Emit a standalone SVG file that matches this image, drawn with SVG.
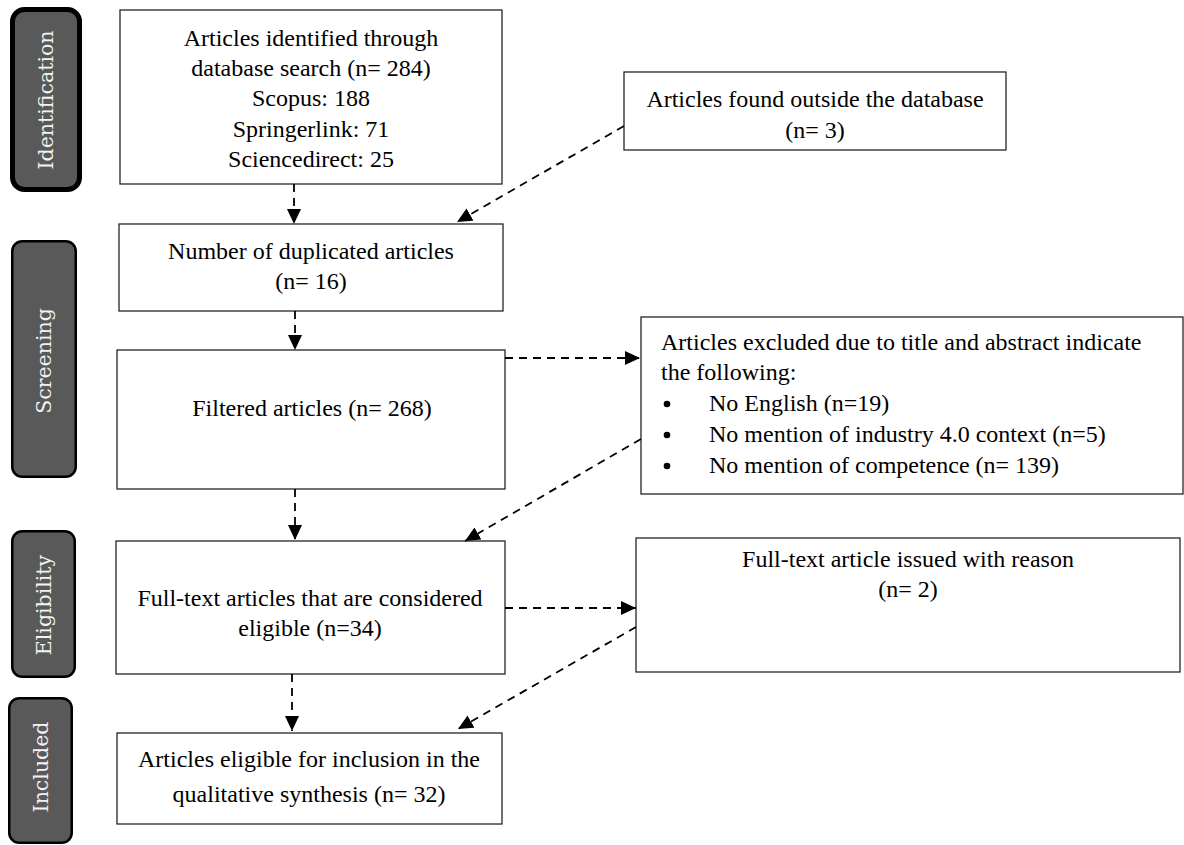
<svg xmlns="http://www.w3.org/2000/svg" width="1184" height="845" viewBox="0 0 1184 845">
<style>
.box{fill:#fff;stroke:#262626;stroke-width:1.3}
.lab{fill:#595959;stroke:#000;stroke-width:2.5}
.t{font-family:"Liberation Serif","Times New Roman",serif;font-size:24px;fill:#000}
.c{text-anchor:middle}
.lt{font-family:"DejaVu Serif",serif;font-size:20.5px;fill:#f2f2f2;text-anchor:middle}
.dl{fill:none;stroke:#000;stroke-width:1.8;stroke-dasharray:8 6}
</style>
<defs>
<marker id="ah" markerUnits="userSpaceOnUse" markerWidth="16" markerHeight="14" refX="15" refY="7" orient="auto">
<path d="M0,0 L15,7 L0,14 z" fill="#000"/>
</marker>
</defs>
<g id="label-identification">
<rect class="lab" x="12.5" y="9.5" width="67" height="180" rx="12" style="stroke-width:5"/>
<text class="lt" transform="translate(53,100) rotate(-90)">Identification</text>
</g>
<g id="label-screening">
<rect class="lab" x="12.25" y="241.25" width="63.5" height="235.5" rx="10"/>
<text class="lt" transform="translate(51,361) rotate(-90)">Screening</text>
</g>
<g id="label-eligibility">
<rect class="lab" x="12.25" y="531.25" width="62.5" height="145.5" rx="10"/>
<text class="lt" transform="translate(51,605) rotate(-90)">Eligibility</text>
</g>
<g id="label-included">
<rect class="lab" x="9.25" y="698.25" width="62.5" height="144.5" rx="10"/>
<text class="lt" transform="translate(48,767) rotate(-90)">Included</text>
</g>
<g id="identified">
<rect class="box" x="120" y="10" width="382" height="174"/>
<text class="t c" x="311" y="45.5">Articles identified through</text>
<text class="t c" x="311" y="76">database search (n= 284)</text>
<text class="t c" x="311" y="106.3">Scopus: 188</text>
<text class="t c" x="311" y="136.7">Springerlink: 71</text>
<text class="t c" x="311" y="167">Sciencedirect: 25</text>
</g>
<g id="outside">
<rect class="box" x="624" y="72" width="382" height="78"/>
<text class="t c" x="815" y="107">Articles found outside the database</text>
<text class="t c" x="815" y="138">(n= 3)</text>
</g>
<g id="duplicated">
<rect class="box" x="119" y="224" width="384" height="87"/>
<text class="t c" x="311" y="259">Number of duplicated articles</text>
<text class="t c" x="311" y="289">(n= 16)</text>
</g>
<g id="filtered">
<rect class="box" x="117" y="350" width="388" height="139"/>
<text class="t c" x="312" y="416">Filtered articles (n= 268)</text>
</g>
<g id="excluded">
<rect class="box" x="641" y="317" width="542" height="177"/>
<text class="t" x="661" y="350">Articles excluded due to title and abstract indicate</text>
<text class="t" x="661" y="380">the following:</text>
<circle cx="667" cy="404" r="3.3" fill="#000"/>
<text class="t" x="709" y="411">No English (n=19)</text>
<circle cx="667" cy="435" r="3.3" fill="#000"/>
<text class="t" x="709" y="442">No mention of industry 4.0 context (n=5)</text>
<circle cx="667" cy="466" r="3.3" fill="#000"/>
<text class="t" x="709" y="473">No mention of competence (n= 139)</text>
</g>
<g id="eligible">
<rect class="box" x="116" y="541" width="389" height="133"/>
<text class="t c" x="310" y="606">Full-text articles that are considered</text>
<text class="t c" x="310" y="636">eligible (n=34)</text>
</g>
<g id="issued">
<rect class="box" x="636" y="538" width="544" height="134"/>
<text class="t c" x="908" y="567">Full-text article issued with reason</text>
<text class="t c" x="908" y="597">(n= 2)</text>
</g>
<g id="included">
<rect class="box" x="117" y="733" width="385" height="91"/>
<text class="t c" x="309" y="767">Articles eligible for inclusion in the</text>
<text class="t c" x="309" y="802">qualitative synthesis (n= 32)</text>
</g>
<g id="connectors">
<path class="dl" d="M294,184 L294,224" marker-end="url(#ah)"/>
<path class="dl" d="M624,126 L457,222" marker-end="url(#ah)"/>
<path class="dl" d="M295,311 L295,350" marker-end="url(#ah)"/>
<path class="dl" d="M505,358 L640,358" marker-end="url(#ah)"/>
<path class="dl" d="M295,489 L295,540" marker-end="url(#ah)"/>
<path class="dl" d="M641,439 L465,541" marker-end="url(#ah)"/>
<path class="dl" d="M505,608 L636,608" marker-end="url(#ah)"/>
<path class="dl" d="M292,674 L292,731" marker-end="url(#ah)"/>
<path class="dl" d="M636,627 L458,729" marker-end="url(#ah)"/>
</g>
</svg>
